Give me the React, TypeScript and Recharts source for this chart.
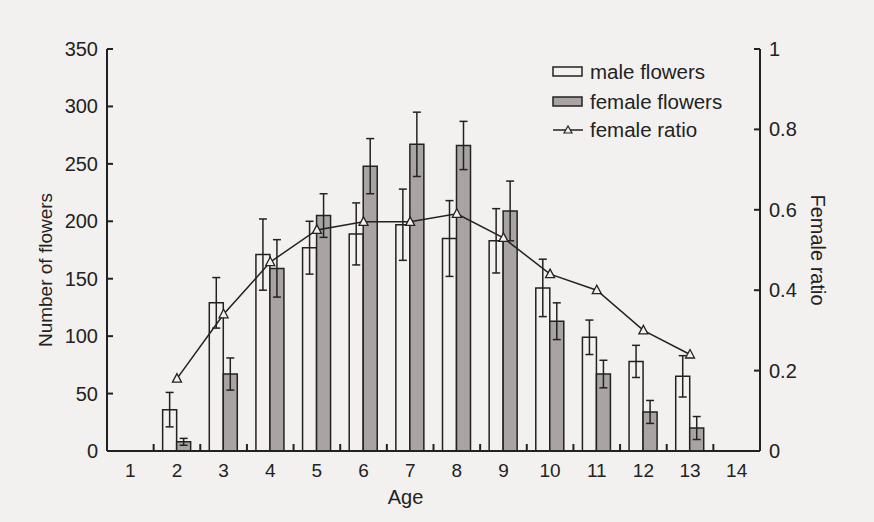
import React from 'react';
import { Bar, ComposedChart, ErrorBar, Line, XAxis, YAxis } from 'recharts';

const ages = [1, 2, 3, 4, 5, 6, 7, 8, 9, 10, 11, 12, 13, 14];
const maleFlowers = [null, 36, 129, 171, 177, 189, 197, 185, 183, 142, 99, 78, 65, null];
const maleErr = [null, 15, 22, 31, 23, 27, 31, 33, 28, 25, 15, 14, 18, null];
const femaleFlowers = [null, 8, 67, 159, 205, 248, 267, 266, 209, 113, 67, 34, 20, null];
const femaleErr = [null, 3, 14, 25, 19, 24, 28, 21, 26, 16, 12, 10, 10, null];
const femaleRatio = [null, 0.18, 0.34, 0.47, 0.55, 0.57, 0.57, 0.59, 0.53, 0.44, 0.4, 0.3, 0.24, null];

const countTicks = [0, 50, 100, 150, 200, 250, 300, 350];
const ratioTicks = [0, 0.2, 0.4, 0.6, 0.8, 1];

const data = ages.map((age, i) => ({
  age,
  male: maleFlowers[i],
  maleErr: maleErr[i],
  female: femaleFlowers[i],
  femaleErr: femaleErr[i],
  ratio: femaleRatio[i],
}));

const INK = '#222';
const BG = '#f2f1ef';
const FONT = '"Liberation Sans", Arial, sans-serif';
const PLOT_W = 653;
const BAND = PLOT_W / ages.length;

const LeftTick = (props: any) => {
  const { x, y, payload } = props;
  return (
    <g>
      <line x1={x} y1={y} x2={x + 6} y2={y} stroke={INK} strokeWidth={2} />
      <text x={x - 9} y={y} textAnchor="end" dominantBaseline="central" fontSize={20} fill={INK} fontFamily={FONT}>
        {payload.value}
      </text>
    </g>
  );
};

const RightTick = (props: any) => {
  const { x, y, payload } = props;
  return (
    <g>
      <line x1={x - 6} y1={y} x2={x} y2={y} stroke={INK} strokeWidth={2} />
      <text x={x + 9} y={y} textAnchor="start" dominantBaseline="central" fontSize={20} fill={INK} fontFamily={FONT}>
        {payload.value}
      </text>
    </g>
  );
};

const BottomTick = (props: any) => {
  const { x, y, payload, index } = props;
  return (
    <g>
      {index < ages.length - 1 && (
        <line x1={x + BAND / 2} y1={y} x2={x + BAND / 2} y2={y - 7} stroke={INK} strokeWidth={2} />
      )}
      <text x={x} y={y + 19} textAnchor="middle" dominantBaseline="central" fontSize={19} fill={INK} fontFamily={FONT}>
        {payload.value}
      </text>
    </g>
  );
};

const TriangleDot = (props: any) => {
  const { cx, cy, index } = props;
  if (cx == null || cy == null) return <g key={index} />;
  return (
    <polygon
      key={index}
      points={`${cx},${cy - 5} ${cx - 4.5},${cy + 3.5} ${cx + 4.5},${cy + 3.5}`}
      fill={BG}
      stroke={INK}
      strokeWidth={1.3}
    />
  );
};

const legendText: React.CSSProperties = { fontSize: 20.5, color: INK, fontFamily: FONT, lineHeight: '20px' };

const ChartLegend = () => (
  <div style={{ position: 'absolute', left: 552, top: 62 }}>
    <div style={{ display: 'flex', alignItems: 'center', height: 20, marginBottom: 10 }}>
      <svg width={32} height={12}>
        <rect x={1} y={1} width={29} height={9} fill={BG} stroke={INK} strokeWidth={1.5} />
      </svg>
      <span style={{ ...legendText, marginLeft: 6 }}>male flowers</span>
    </div>
    <div style={{ display: 'flex', alignItems: 'center', height: 20, marginBottom: 8 }}>
      <svg width={32} height={12}>
        <rect x={1} y={1} width={29} height={9} fill="#a9a4a3" stroke={INK} strokeWidth={1.5} />
      </svg>
      <span style={{ ...legendText, marginLeft: 6 }}>female flowers</span>
    </div>
    <div style={{ display: 'flex', alignItems: 'center', height: 20 }}>
      <svg width={32} height={12}>
        <line x1={1} y1={6} x2={31} y2={6} stroke={INK} strokeWidth={1.5} />
        <polygon points="16,2 12,9 20,9" fill={BG} stroke={INK} strokeWidth={1.2} />
      </svg>
      <span style={{ ...legendText, marginLeft: 6 }}>female ratio</span>
    </div>
  </div>
);

export default function App() {
  return (
    <div style={{ position: 'absolute', left: 0, top: 0, width: 874, height: 522, background: BG }}>
      <ComposedChart
        width={874}
        height={522}
        data={data}
        margin={{ top: 49, right: 34, bottom: 11, left: 27 }}
        barGap={0}
        barSize={14}
      >
        <XAxis
          dataKey="age"
          interval={0}
          height={60}
          tickSize={0}
          tickMargin={0}
          tickLine={false}
          tick={<BottomTick />}
          axisLine={{ stroke: INK, strokeWidth: 2 }}
          label={{ value: 'Age', position: 'center', dx: -28, dy: 16, style: { fontSize: 20, fill: INK, fontFamily: FONT } }}
        />
        <YAxis
          yAxisId="left"
          width={80}
          domain={[0, 350]}
          ticks={countTicks}
          interval={0}
          tickSize={0}
          tickMargin={0}
          tickLine={false}
          tick={<LeftTick />}
          axisLine={{ stroke: INK, strokeWidth: 2 }}
          label={{
            value: 'Number of flowers',
            angle: -90,
            position: 'center',
            dx: -22,
            dy: 20,
            style: { fontSize: 19, fill: INK, fontFamily: FONT, textAnchor: 'middle' },
          }}
        />
        <YAxis
          yAxisId="right"
          orientation="right"
          width={80}
          domain={[0, 1]}
          ticks={ratioTicks}
          interval={0}
          tickSize={0}
          tickMargin={0}
          tickLine={false}
          tick={<RightTick />}
          axisLine={{ stroke: INK, strokeWidth: 2 }}
          label={{
            value: 'Female ratio',
            angle: 90,
            position: 'center',
            dx: 18,
            style: { fontSize: 20, fill: INK, fontFamily: FONT, textAnchor: 'middle' },
          }}
        />
        <Bar yAxisId="left" dataKey="male" fill={BG} stroke={INK} strokeWidth={1.5} isAnimationActive={false}>
          <ErrorBar dataKey="maleErr" width={4} stroke={INK} strokeWidth={1.5} />
        </Bar>
        <Bar yAxisId="left" dataKey="female" fill="#a9a4a3" stroke={INK} strokeWidth={1.5} isAnimationActive={false}>
          <ErrorBar dataKey="femaleErr" width={4} stroke={INK} strokeWidth={1.5} />
        </Bar>
        <Line
          yAxisId="right"
          dataKey="ratio"
          type="linear"
          stroke={INK}
          strokeWidth={1.5}
          dot={TriangleDot}
          activeDot={false}
          isAnimationActive={false}
        />
      </ComposedChart>
      <ChartLegend />
    </div>
  );
}
